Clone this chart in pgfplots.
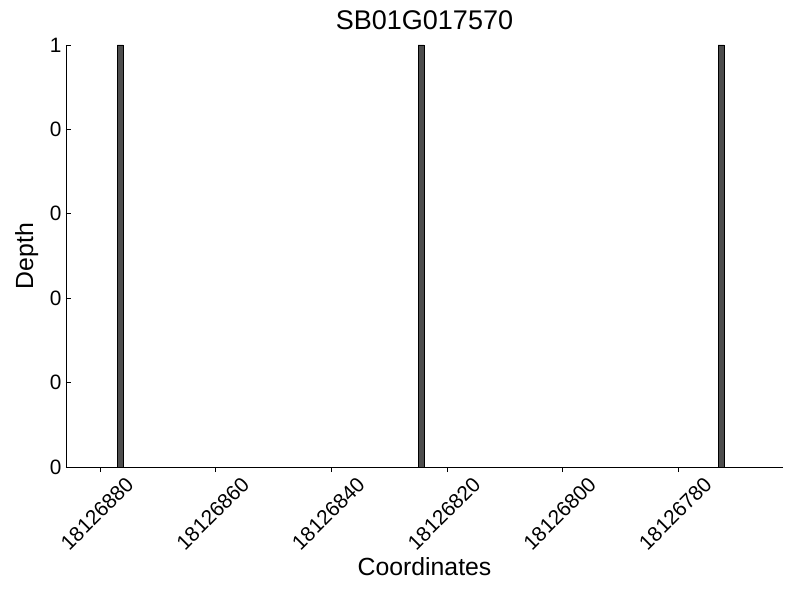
\documentclass[border=0pt]{standalone}
\usepackage{pgfplots}
\pgfplotsset{compat=1.18}
\usepackage{fontspec}
\setmainfont{Liberation Sans}
\definecolor{barfill}{RGB}{77,77,77}
\begin{document}
\begin{tikzpicture}
\path[use as bounding box] (0,0) rectangle (800pt,600pt);
\begin{axis}[
  at={(66pt,133pt)}, anchor=south west,
  scale only axis, width=717pt, height=422pt,
  x dir=reverse,
  % x values are offsets from 18126800
  xmin=-38.1, xmax=85.9,
  ymin=0, ymax=1,
  xtick={-20,0,20,40,60,80},
  xticklabels={18126780,18126800,18126820,18126840,18126860,18126880},
  ytick={0,0.2,0.4,0.6,0.8,1},
  yticklabels={0,0,0,0,0,1},
  axis x line*=bottom, axis y line*=left,
  axis line style={-, line width=0.9pt},
  tick align=inside,
  major tick length=5pt,
  tick style={black, line width=0.6pt},
  /pgf/number format/assume math mode=true,
  tick label style={font=\fontsize{20.8}{24}\selectfont},
  xticklabel style={rotate=45, anchor=center, xshift=-31.5pt, yshift=-27.2pt},
  yticklabel style={xshift=-1pt},
  title={SB01G017570},
  title style={font=\fontsize{27}{30}\selectfont, at={(axis description cs:0.5,1.022)}, anchor=base},
  xlabel={Coordinates},
  xlabel style={font=\fontsize{24.8}{28}\selectfont, at={(axis description cs:0.5,-0.2576)}, anchor=base},
  ylabel={Depth},
  ylabel style={font=\fontsize{24.8}{28}\selectfont, at={(axis description cs:-0.046,0.5)}, anchor=base, rotate=0},
  ybar, bar width=1,
]
\addplot[fill=barfill, draw=black, line width=0.8pt] coordinates {
  (76.5,1) (24.5,1) (-27.4,1)
};
\end{axis}
\end{tikzpicture}
\end{document}
